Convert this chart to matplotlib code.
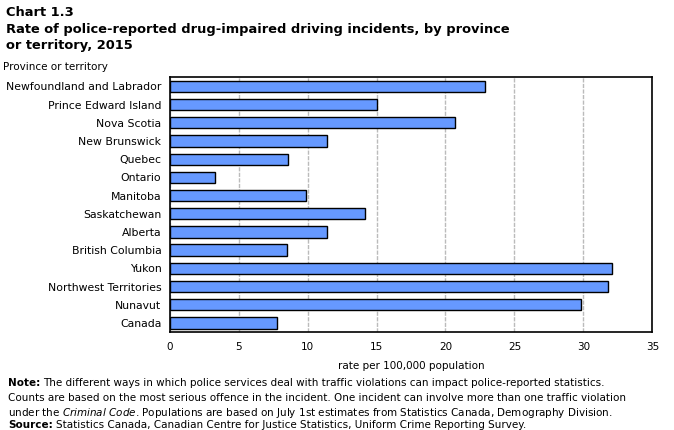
import numpy as np
import matplotlib
matplotlib.use('Agg')
import matplotlib.pyplot as plt

provinces = ['Newfoundland and Labrador', 'Prince Edward Island', 'Nova Scotia',
             'New Brunswick', 'Quebec', 'Ontario', 'Manitoba', 'Saskatchewan',
             'Alberta', 'British Columbia', 'Yukon', 'Northwest Territories',
             'Nunavut', 'Canada']
rates = [22.9, 15.0, 20.7, 11.4, 8.6, 3.3, 9.9, 14.2, 11.4, 8.5, 32.1, 31.8, 29.8, 7.8]
xticks = [0, 5, 10, 15, 20, 25, 30, 35]

plt.rcParams['font.family'] = 'DejaVu Sans'

fig = plt.figure(figsize=(6.74, 4.30), dpi=100)
ax = fig.add_axes([169.7/674, 98/430, 482.6/674, 254.7/430])

y = np.arange(len(provinces))
ax.barh(y, rates, height=0.62, color='#6699FF', edgecolor='black', linewidth=1, zorder=3)
ax.set_ylim(len(provinces) - 0.5, -0.5)
ax.set_xlim(0, 35)
ax.set_xticks(xticks)
ax.set_xticklabels([str(t) for t in xticks], fontsize=7.5)
ax.set_yticks(y)
ax.set_yticklabels(provinces, fontsize=7.8)
ax.tick_params(axis='y', length=0, pad=6)
ax.tick_params(axis='x', length=0, pad=7)
ax.grid(axis='x', color='#bbbbbb', linestyle='--', dashes=(3, 1), linewidth=1, zorder=0)
for s in ax.spines.values():
    s.set_linewidth(1.2)
ax.set_xlabel('rate per 100,000 population', fontsize=7.5, labelpad=7)

fig.text(6/674, 1 - 12/430, 'Chart 1.3', fontsize=9.4, fontweight='bold', va='center')
fig.text(6/674, 1 - 30/430, 'Rate of police-reported drug-impaired driving incidents, by province',
         fontsize=9.4, fontweight='bold', va='center')
fig.text(6/674, 1 - 46/430, 'or territory, 2015', fontsize=9.4, fontweight='bold', va='center')
fig.text(3/674, 1 - 67/430, 'Province or territory', fontsize=7.5, va='center')

fs = 7.5
renderer = fig.canvas.get_renderer()


def note_line(ypix, bold, rest):
    x0 = 8 / 674
    if bold:
        t = fig.text(x0, 1 - ypix/430, bold, fontsize=fs, fontweight='bold', va='center')
        bb = t.get_window_extent(renderer=renderer)
        x0 = (bb.x1 + 3) / 674
    fig.text(x0, 1 - ypix/430, rest, fontsize=fs, va='center')


note_line(383, 'Note:', 'The different ways in which police services deal with traffic violations can impact police-reported statistics.')
note_line(398, None, 'Counts are based on the most serious offence in the incident. One incident can involve more than one traffic violation')
note_line(413, None, r'under the $\it{Criminal\ Code}$. Populations are based on July 1st estimates from Statistics Canada, Demography Division.')
note_line(425, 'Source:', 'Statistics Canada, Canadian Centre for Justice Statistics, Uniform Crime Reporting Survey.')

fig.savefig('out.png', dpi=100)
